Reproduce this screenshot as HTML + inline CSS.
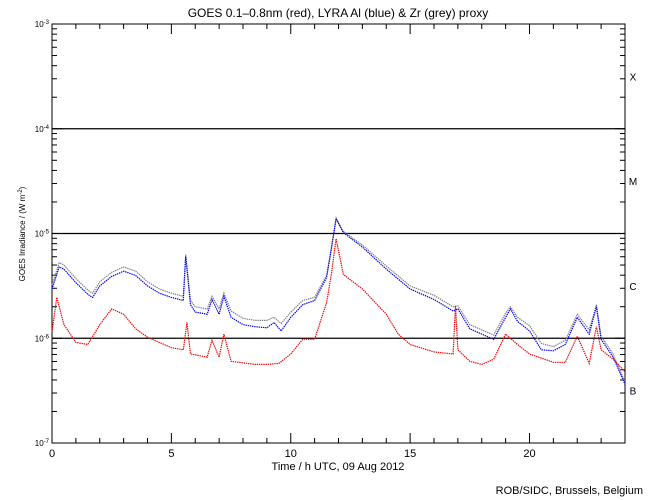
<!DOCTYPE html>
<html><head><meta charset="utf-8">
<style>
html,body{margin:0;padding:0;background:#fff;}
svg{display:block;font-family:"Liberation Sans",sans-serif;}
</style></head>
<body>
<svg id="chart" width="650" height="500" viewBox="0 0 650 500" xmlns="http://www.w3.org/2000/svg">
<rect width="650" height="500" fill="#fff"/>
<text x="338" y="17" font-size="12" text-anchor="middle">GOES 0.1–0.8nm (red), LYRA Al (blue) &amp; Zr (grey) proxy</text>
<text x="338" y="470" font-size="11" text-anchor="middle">Time / h UTC, 09 Aug 2012</text>
<text transform="translate(25,234) rotate(-90)" font-size="8" text-anchor="middle">GOES Irradiance / (W m<tspan baseline-shift="super" font-size="6">-2</tspan>)</text>
<text x="643" y="494" font-size="11" text-anchor="end">ROB/SIDC, Brussels, Belgium</text>
<g id="axes"></g>
<g id="series"></g>
</svg>
<script>
// Data (log10 of irradiance in W m^-2)
const blueT = [0,0.3,0.5,1,1.5,1.7,2,2.5,3,3.5,4,4.5,5,5.5,5.6,5.8,6,6.5,6.7,7,7.2,7.5,8,8.5,9,9.3,9.6,10,10.5,11,11.5,11.7,11.9,12.2,13,14,15,16,16.8,17,17.5,18,18.5,19,19.2,19.5,20,20.5,21,21.5,22,22.5,22.8,23,23.5,24];
const blueV = [-5.53,-5.32,-5.34,-5.47,-5.58,-5.61,-5.50,-5.41,-5.36,-5.40,-5.50,-5.57,-5.61,-5.64,-5.22,-5.68,-5.75,-5.77,-5.63,-5.77,-5.60,-5.80,-5.87,-5.89,-5.90,-5.85,-5.93,-5.80,-5.68,-5.64,-5.42,-5.15,-4.86,-4.99,-5.13,-5.34,-5.53,-5.63,-5.74,-5.72,-5.91,-5.96,-6.01,-5.80,-5.72,-5.84,-5.93,-6.11,-6.12,-6.06,-5.80,-5.96,-5.70,-6.01,-6.18,-6.44];
const greyV = [-5.49,-5.28,-5.30,-5.43,-5.54,-5.57,-5.46,-5.37,-5.32,-5.36,-5.46,-5.53,-5.57,-5.60,-5.20,-5.64,-5.70,-5.72,-5.60,-5.72,-5.57,-5.74,-5.81,-5.83,-5.83,-5.80,-5.86,-5.75,-5.64,-5.61,-5.40,-5.14,-4.85,-4.98,-5.11,-5.31,-5.50,-5.59,-5.70,-5.69,-5.87,-5.92,-5.97,-5.76,-5.70,-5.80,-5.88,-6.05,-6.08,-6.02,-5.77,-5.92,-5.68,-5.98,-6.15,-6.42];
const redT = [0,0.2,0.5,1,1.5,2,2.5,3,3.5,4,5,5.5,5.65,5.8,6.5,6.7,7,7.2,7.5,8.5,9,9.5,10,10.5,11,11.5,11.7,11.9,12.2,13,14,14.5,15,16,16.8,16.9,17,17.5,18,18.5,19,19.5,20,21,21.5,22,22.5,22.8,23,23.5,24];
const redV = [-5.94,-5.61,-5.87,-6.04,-6.06,-5.87,-5.72,-5.77,-5.91,-5.99,-6.09,-6.11,-5.85,-6.15,-6.18,-6.02,-6.18,-5.96,-6.22,-6.25,-6.25,-6.24,-6.15,-6.01,-6.01,-5.66,-5.39,-5.05,-5.39,-5.53,-5.77,-5.96,-6.06,-6.13,-6.15,-5.69,-6.11,-6.22,-6.25,-6.20,-5.96,-6.06,-6.15,-6.23,-6.23,-5.98,-6.24,-5.89,-6.11,-6.20,-6.32];
const xTickLabels = ["0","5","10","15","20"];
const decades = [-3,-4,-5,-6,-7];
const classLetters = ["X","M","C","B"];

const X0=52,X1=625,Y0=24,Y1=443;
const xs = h => X0 + (X1-X0)*h/24;
const ys = l => Y0 + (Y1-Y0)*(-3-l)/4;
const NS="http://www.w3.org/2000/svg";
const axes=document.getElementById('axes');
const series=document.getElementById('series');
function mk(tag,attrs,parent){const e=document.createElementNS(NS,tag);for(const k in attrs)e.setAttribute(k,attrs[k]);parent.appendChild(e);return e;}

const frame=mk('rect',{x:X0,y:Y0,width:X1-X0,height:Y1-Y0,fill:'none',stroke:'#000','stroke-width':1},axes);



for(let h=0;h<=24;h++){
  const L = h%5===0?10:5;
  const x=xs(h);
  const tb=mk('line',{x1:x,x2:x,y1:Y1,y2:Y1-L,stroke:'#000'},axes);
  
  
  const tt=mk('line',{x1:x,x2:x,y1:Y0,y2:Y0+L,stroke:'#000'},axes);
  
  
}
xTickLabels.forEach(s=>{
  const t=mk('text',{x:xs(+s),y:Y1+14,'font-size':11,'text-anchor':'middle'},axes);
  t.textContent=s;
  
  
});

decades.forEach((d,i)=>{
  const y=ys(d);
  const lab=mk('text',{x:X0-3,y:y+3,'font-size':8,'text-anchor':'end'},axes);
  lab.textContent='10';
  const sup=mk('tspan',{'baseline-shift':'super','font-size':6},lab);
  sup.textContent=String(d);
  
  
  if(d<=-4 && d>=-6){
    const gl=mk('line',{x1:X0,x2:X1,y1:y,y2:y,stroke:'#000','stroke-width':1.3},axes);
    
    
  }
  if(d>-7){
    for(let m=2;m<=9;m++){
      const yy=ys(d-1+Math.log10(m));
      const a=mk('line',{x1:X0,x2:X0+5,y1:yy,y2:yy,stroke:'#000'},axes);
      
      
      const b=mk('line',{x1:X1,x2:X1-5,y1:yy,y2:yy,stroke:'#000'},axes);
      
      
    }
  }
  const a=mk('line',{x1:X0,x2:X0+10,y1:y,y2:y,stroke:'#000'},axes);
  
  
  const b=mk('line',{x1:X1,x2:X1-10,y1:y,y2:y,stroke:'#000'},axes);
  
  
});
classLetters.forEach((c,i)=>{
  const t=mk('text',{x:X1+8,y:ys(-3.5-i)+4,'font-size':10,'text-anchor':'middle'},axes);
  t.textContent=c;
  
  
});

function line(T,V,color,name){
  const p=mk('polyline',{points:T.map((t,i)=>xs(t).toFixed(1)+','+ys(V[i]).toFixed(1)).join(' '),fill:'none',stroke:color,'stroke-width':1.2,'stroke-dasharray':'1.4 0.8'},series);
  
  
}
line(blueT,greyV,'#808080','zr-proxy-series');
line(blueT,blueV,'#0000ff','al-proxy-series');
line(redT,redV,'#ff0000','goes-series');
</script>
</body></html>
